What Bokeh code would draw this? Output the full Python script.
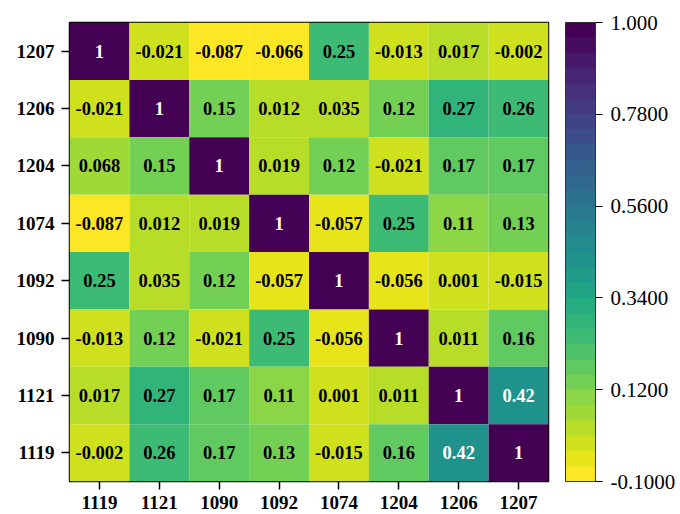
from bokeh.plotting import figure
from bokeh.models import (ColumnDataSource, LinearColorMapper, ColorBar, FixedTicker,
                          CustomJSTickFormatter, FactorRange)
from bokeh.palettes import viridis
from bokeh.core.properties import value
from bokeh.embed import file_html
from bokeh.resources import INLINE

x_labels = ["1119", "1121", "1090", "1092", "1074", "1204", "1206", "1207"]
y_labels_top_down = ["1207", "1206", "1204", "1074", "1092", "1090", "1121", "1119"]

# matrix rows as drawn, top row first
matrix = [
    [1, -0.021, -0.087, -0.066, 0.25, -0.013, 0.017, -0.002],
    [-0.021, 1, 0.15, 0.012, 0.035, 0.12, 0.27, 0.26],
    [0.068, 0.15, 1, 0.019, 0.12, -0.021, 0.17, 0.17],
    [-0.087, 0.012, 0.019, 1, -0.057, 0.25, 0.11, 0.13],
    [0.25, 0.035, 0.12, -0.057, 1, -0.056, 0.001, -0.015],
    [-0.013, 0.12, -0.021, 0.25, -0.056, 1, 0.011, 0.16],
    [0.017, 0.27, 0.17, 0.11, 0.001, 0.011, 1, 0.42],
    [-0.002, 0.26, 0.17, 0.13, -0.015, 0.16, 0.42, 1],
]
cbar_ticks = [-0.1, 0.12, 0.34, 0.56, 0.78, 1.0]
vmin, vmax = -0.1, 1.0
n_levels = 30

xs, ys, vals, txt, tcol = [], [], [], [], []
for r, row in enumerate(matrix):
    for c, v in enumerate(row):
        xs.append(x_labels[c])
        ys.append(y_labels_top_down[r])
        vals.append(v)
        txt.append("{:.2g}".format(v))
        tcol.append("white" if v > 0.4 else "black")
src = ColumnDataSource(dict(x=xs, y=ys, v=vals, t=txt, tc=tcol))

palette = list(reversed(viridis(n_levels)))
mapper = LinearColorMapper(palette=palette, low=vmin, high=vmax)

p = figure(width=680, height=514, output_backend="svg", toolbar_location=None,
           x_range=FactorRange(*x_labels),
           y_range=FactorRange(*list(reversed(y_labels_top_down))),
           min_border_left=69, min_border_top=22, min_border_right=132, min_border_bottom=33)
p.rect(x="x", y="y", width=1, height=1, source=src,
       fill_color={"field": "v", "transform": mapper}, line_color=None)
p.text(x="x", y="y", text="t", source=src, text_color="tc",
       text_font=value("Liberation Serif"), text_font_style="bold",
       text_font_size="18.5px", text_align="center", text_baseline="middle")

p.grid.visible = False
p.outline_line_color = "black"
p.outline_line_width = 1.5
for ax in (p.xaxis, p.yaxis):
    ax.axis_line_color = None
    ax.major_tick_out = 8
    ax.major_tick_in = 0
    ax.minor_tick_line_color = None
    ax.major_tick_line_color = "black"
    ax.major_tick_line_width = 1.5
    ax.major_label_text_font = "Liberation Serif"
    ax.major_label_text_font_style = "bold"
    ax.major_label_text_font_size = "19px"
    ax.major_label_text_color = "black"
p.yaxis.major_label_standoff = 7
p.xaxis.major_label_standoff = 6

cb = ColorBar(color_mapper=mapper, ticker=FixedTicker(ticks=cbar_ticks),
              formatter=CustomJSTickFormatter(code="return tick > 0.999 ? tick.toFixed(3) : tick.toFixed(4);"),
              width=30, height="auto", margin=0, padding=0, location=(17, 0),
              major_tick_out=7, major_tick_in=0, major_tick_line_color="black",
              minor_tick_line_color=None, bar_line_color="#333333", bar_line_width=1,
              major_label_text_font="Liberation Serif", major_label_text_font_size="21px",
              major_label_text_color="black", label_standoff=8,
              background_fill_alpha=0, border_line_color=None)
p.add_layout(cb, "right")

open("out.html", "w").write(file_html(p, INLINE))
